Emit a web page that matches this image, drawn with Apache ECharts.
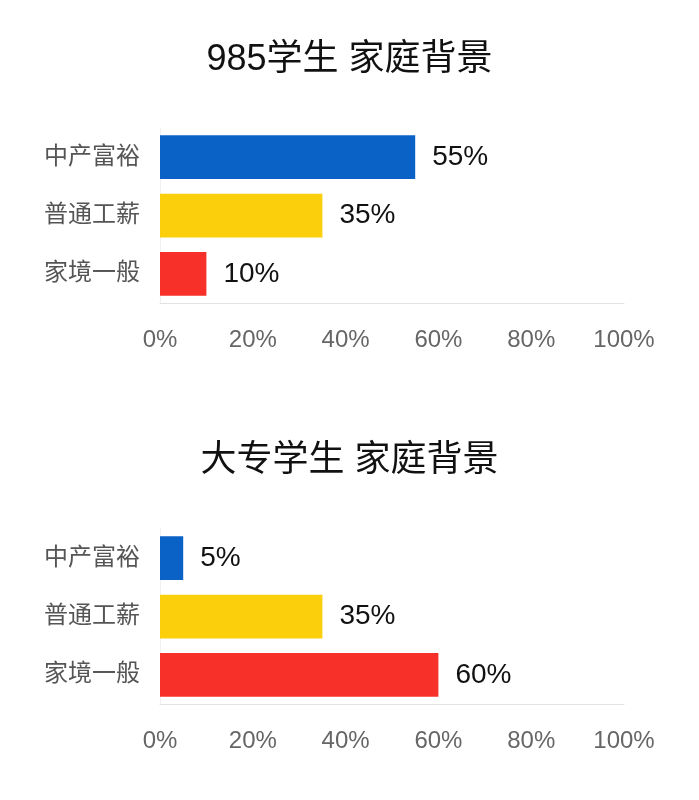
<!DOCTYPE html>
<html><head><meta charset="utf-8">
<script src="https://cdn.jsdelivr.net/npm/echarts@6/dist/echarts.min.js"></script>
<style>html,body{margin:0;padding:0;background:#fff}#c{width:699px;height:800px}</style>
</head><body><div id="c"></div>
<script>
const categories = ['中产富裕', '普通工薪', '家境一般'];
const values985 = [55, 35, 10];
const valuesCollege = [5, 35, 60];
const barColors = ['#0A62C6', '#FCCF0C', '#F8302A'];
const titles = ['985学生 家庭背景', '大专学生 家庭背景'];
const xTicks = [0, 20, 40, 60, 80, 100];

const FONT = '"Liberation Sans", "Noto Sans CJK SC", sans-serif';
const chart = echarts.init(document.getElementById('c'), null, {renderer: 'canvas'});

function xAxis(idx) {
  return {
    gridIndex: idx, type: 'value', min: xTicks[0], max: xTicks[xTicks.length - 1], interval: 20,
    axisLine: {show: true, lineStyle: {color: '#e2e2e2', width: 1}},
    axisTick: {show: false}, splitLine: {show: false},
    axisLabel: {formatter: '{value}%', color: '#666', fontSize: 24, fontFamily: FONT, margin: 25}
  };
}
function yAxis(idx) {
  return {
    gridIndex: idx, type: 'category', data: categories, inverse: true,
    axisLine: {show: true, lineStyle: {color: '#f0f0f0', width: 1}},
    axisTick: {show: false},
    axisLabel: {color: '#555', fontSize: 24, fontFamily: FONT, margin: 20}
  };
}
function series(idx, vals) {
  return {
    type: 'bar', xAxisIndex: idx, yAxisIndex: idx, barCategoryGap: '25%',
    data: vals.map((v, i) => ({value: v, itemStyle: {color: barColors[i]}})),
    label: {show: true, position: 'right', distance: 17, formatter: '{c}%', color: '#111', fontSize: 28, fontFamily: FONT},
    silent: true, animation: false
  };
}

chart.setOption({
  animation: false,
  backgroundColor: '#fff',
  title: [
    {text: titles[0], left: 'center', top: 37, textStyle: {fontSize: 36, fontWeight: 'normal', color: '#111', fontFamily: FONT}},
    {text: titles[1], left: 'center', top: 438, textStyle: {fontSize: 36, fontWeight: 'normal', color: '#111', fontFamily: FONT}}
  ],
  grid: [
    {left: 160, right: 75, top: 128, height: 175},
    {left: 160, right: 75, top: 529, height: 175}
  ],
  xAxis: [xAxis(0), xAxis(1)],
  yAxis: [yAxis(0), yAxis(1)],
  series: [series(0, values985), series(1, valuesCollege)]
});
</script></body></html>
